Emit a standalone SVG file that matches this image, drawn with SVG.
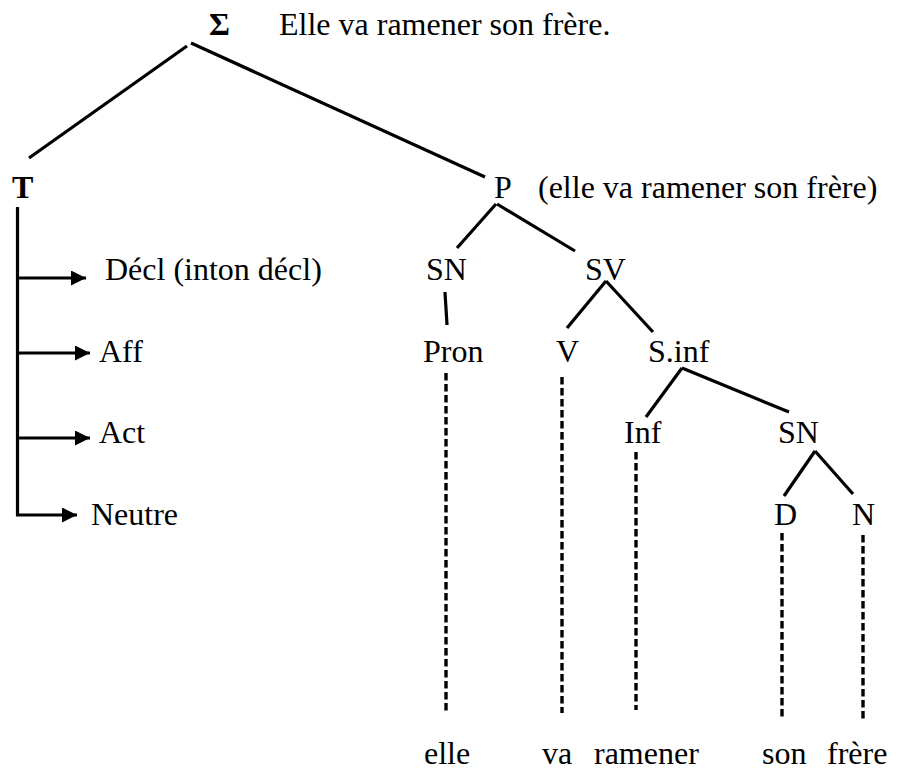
<svg xmlns="http://www.w3.org/2000/svg" width="909" height="771" viewBox="0 0 909 771">
<defs>
<marker id="ah" markerUnits="userSpaceOnUse" markerWidth="16" markerHeight="16" refX="15" refY="7.5" orient="auto">
<path d="M0,0 L15,7.5 L0,15 Z" fill="#000"/>
</marker>
<style>
text{font-family:"Liberation Serif","Times New Roman",serif;font-size:32px;fill:#000}
.b{font-weight:bold}
.ln{stroke:#000;stroke-width:3.2;fill:none}
.ds{stroke:#000;stroke-width:3.4;fill:none;stroke-dasharray:7.5 3.5}
</style>
</defs>
<rect width="909" height="771" fill="#fff"/>
<g id="connectors">
<line class="ln" x1="187" y1="46" x2="29" y2="158"/>
<line class="ln" x1="191" y1="43" x2="485" y2="177"/>
<polyline class="ln" points="17.5,207 17.5,515 77,515" marker-end="url(#ah)"/>
<line class="ln" x1="17.5" y1="278" x2="86" y2="278" marker-end="url(#ah)"/>
<line class="ln" x1="17.5" y1="353" x2="90" y2="353" marker-end="url(#ah)"/>
<line class="ln" x1="17.5" y1="438" x2="90" y2="438" marker-end="url(#ah)"/>
<line class="ln" x1="496" y1="204" x2="457" y2="248"/>
<line class="ln" x1="497" y1="204" x2="575" y2="251"/>
<line class="ln" x1="445" y1="292" x2="447" y2="325"/>
<line class="ln" x1="606" y1="281" x2="567" y2="328"/>
<line class="ln" x1="606" y1="281" x2="653" y2="332"/>
<line class="ln" x1="682" y1="368" x2="646" y2="417"/>
<line class="ln" x1="682" y1="368" x2="789" y2="412"/>
<line class="ln" x1="815" y1="451" x2="784" y2="496"/>
<line class="ln" x1="815" y1="451" x2="853" y2="494"/>
<line class="ds" x1="446" y1="373" x2="446" y2="712"/>
<line class="ds" x1="562" y1="377" x2="562" y2="713"/>
<line class="ds" x1="636" y1="452" x2="636" y2="710"/>
<line class="ds" x1="782" y1="533" x2="782" y2="719"/>
<line class="ds" x1="863" y1="535" x2="863" y2="722"/>
</g>
<g id="sigma"><text class="b" x="209" y="35">Σ</text><text x="279" y="35">Elle va ramener son frère.</text></g>
<g id="T"><text class="b" x="12" y="198">T</text></g>
<g id="P"><text x="494" y="198">P</text><text x="538" y="198">(elle va ramener son frère)</text></g>
<g id="decl"><text x="105" y="280">Décl (inton décl)</text></g>
<g id="aff"><text x="99" y="362">Aff</text></g>
<g id="act"><text x="99" y="443">Act</text></g>
<g id="neutre"><text x="91" y="525">Neutre</text></g>
<g id="SN1"><text x="426" y="280">SN</text></g>
<g id="SV"><text x="585" y="280">SV</text></g>
<g id="Pron"><text x="423" y="362">Pron</text></g>
<g id="V"><text x="556" y="362">V</text></g>
<g id="Sinf"><text x="648" y="362">S.inf</text></g>
<g id="Inf"><text x="624" y="443">Inf</text></g>
<g id="SN2"><text x="778" y="443">SN</text></g>
<g id="D"><text x="774" y="525">D</text></g>
<g id="N"><text x="852" y="525">N</text></g>
<g id="words">
<text x="424" y="764">elle</text>
<text x="542" y="764">va</text>
<text x="594" y="764">ramener</text>
<text x="762" y="764">son</text>
<text x="827" y="764">frère</text>
</g>
</svg>
